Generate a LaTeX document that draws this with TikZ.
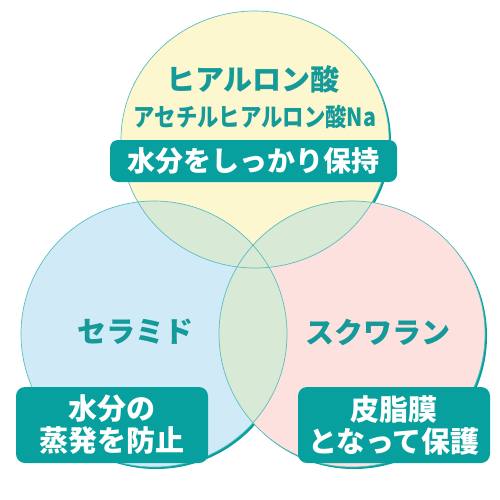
\documentclass[tikz,border=0pt]{standalone}
\usepackage{graphicx}
\usepackage{fontspec}
\setmainfont{Noto Sans CJK JP}
\definecolor{topfill}{HTML}{FDF7D0}
\definecolor{leftfill}{HTML}{D1EAF8}
\definecolor{rightfill}{HTML}{FCE1DE}
\definecolor{ovlfill}{HTML}{D8EAD6}
\definecolor{ringteal}{HTML}{5ABEBE}
\definecolor{badgeteal}{HTML}{08A09E}
\definecolor{txtteal}{HTML}{149A99}
\begin{document}
\begin{tikzpicture}[x=1pt,y=-1pt,
  lbl/.style={text=txtteal,font=\bfseries\fontsize{29}{32}\selectfont,inner sep=0pt},
  badge/.style={fill=badgeteal,rounded corners=9pt,text=white,font=\bfseries\fontsize{29}{32}\selectfont,align=center,inner sep=0pt},
  ring/.style={draw=ringteal,line width=0.7pt}]
\useasboundingbox (0,0) rectangle (500,500);
% shadow
\fill[badgeteal] (257,141.5) ellipse [x radius=134,y radius=128.5];
\fill[badgeteal] (156,336) circle [radius=133];
\fill[badgeteal] (354,336) circle [radius=133];
% fills
\fill[topfill] (255,139.5) ellipse [x radius=134,y radius=128.5];
\fill[leftfill] (154,334) circle [radius=133];
\fill[rightfill] (352,334) circle [radius=133];
\begin{scope}
  \clip (154,334) circle [radius=133];
  \fill[ovlfill] (255,139.5) ellipse [x radius=134,y radius=128.5];
  \fill[ovlfill] (352,334) circle [radius=133];
\end{scope}
\begin{scope}
  \clip (255,139.5) ellipse [x radius=134,y radius=128.5];
  \fill[ovlfill] (352,334) circle [radius=133];
\end{scope}
% outlines
\draw[ring] (255,139.5) ellipse [x radius=134,y radius=128.5];
\draw[ring] (154,334) circle [radius=133];
\draw[ring] (352,334) circle [radius=133];
% texts
\node[lbl] (hyal) at (253,79) {ヒアルロン酸};
\node[lbl] (acet) at (255,117) {\scalebox{0.855}[1]{\fontsize{25}{28}\selectfont アセチルヒアルロン酸Na}};
\node[badge,minimum width=287pt,minimum height=42pt,rounded corners=8pt,font=\bfseries\fontsize{28}{32}\selectfont] (keep) at (253.5,161) {水分をしっかり保持};
\node[lbl] (cera) at (135,332) {セラミド};
\node[lbl] (squa) at (378,332) {スクワラン};
\node[badge,minimum width=192pt,minimum height=76pt] (evap) at (112,425) {水分の\\蒸発を防止};
\node[badge,minimum width=192pt,minimum height=76pt] (sebum) at (394,425) {皮脂膜\\となって保護};
\end{tikzpicture}
\end{document}
